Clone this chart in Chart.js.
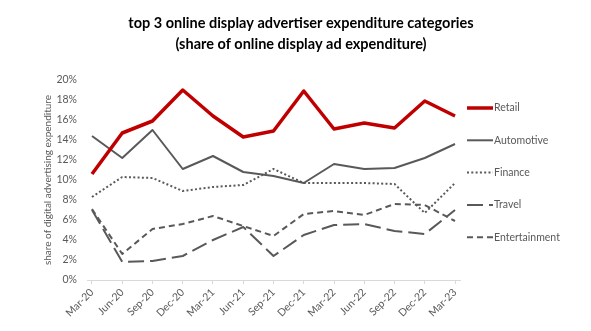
<!DOCTYPE html>
<html>
<head>
<meta charset="utf-8">
<script src="https://cdn.jsdelivr.net/npm/chart.js@4.4.1/dist/chart.umd.min.js"></script>
<style>
html,body{margin:0;padding:0;background:#fff;}
#wrap{width:591px;height:331px;position:relative;}
</style>
</head>
<body>
<div id="wrap"><canvas id="c" width="591" height="331"></canvas></div>
<script>
const categories = ['Mar-20','Jun-20','Sep-20','Dec-20','Mar-21','Jun-21','Sep-21','Dec-21','Mar-22','Jun-22','Sep-22','Dec-22','Mar-23'];
const retail        = [10.6, 14.7, 15.9, 19.0, 16.4, 14.3, 14.9, 18.9, 15.1, 15.7, 15.2, 17.9, 16.4];
const automotive    = [14.4, 12.2, 15.0, 11.1, 12.4, 10.8, 10.4,  9.7, 11.6, 11.1, 11.2, 12.2, 13.6];
const finance       = [ 8.3, 10.3, 10.2,  8.9,  9.3,  9.5, 11.1,  9.7,  9.7,  9.7,  9.6,  6.7,  9.7];
const travel        = [ 7.0,  1.8,  1.9,  2.4,  4.0,  5.3,  2.4,  4.5,  5.5,  5.6,  4.9,  4.6,  7.0];
const entertainment = [ 7.1,  2.6,  5.1,  5.6,  6.4,  5.4,  4.4,  6.6,  6.9,  6.5,  7.6,  7.5,  5.9];
const yTicks = [0,2,4,6,8,10,12,14,16,18,20];
const titleLines = ['top 3 online display advertiser expenditure categories','(share of online display ad expenditure)'];
const yTitle = 'share of digital advertising expenditure';

const GREY = '#595959';
const toXY = arr => arr.map((v,i)=>({x:i,y:v}));

const legendPlugin = {
  id:'customLegend',
  afterDraw(chart){
    const ctx = chart.ctx;
    const ds = chart.data.datasets;
    ctx.save();
    ds.forEach((d,i)=>{
      const y = 108 + i*32.3;
      ctx.beginPath();
      ctx.strokeStyle = d.borderColor;
      ctx.lineWidth = d.borderWidth;
      ctx.setLineDash(d.borderDash || []);
      ctx.lineCap = 'butt';
      ctx.moveTo(467,y); ctx.lineTo(493,y);
      ctx.stroke();
      ctx.setLineDash([]);
      ctx.fillStyle = GREY;
      ctx.font = '10.5px Lato, "DejaVu Sans", sans-serif';
      ctx.textBaseline = 'middle';
      ctx.textAlign = 'left';
      ctx.fillText(d.label, 494, y);
    });
    ctx.restore();
  }
};

const titlePlugin = {
  id:'customTitle',
  afterDraw(chart){
    const ctx = chart.ctx;
    ctx.save();
    ctx.fillStyle = '#000';
    ctx.font = 'bold 14.5px Lato, "DejaVu Sans", sans-serif';
    ctx.textAlign = 'center';
    ctx.textBaseline = 'middle';
    ctx.fillText(titleLines[0], 301, 23);
    ctx.fillText(titleLines[1], 301, 44);
    ctx.restore();
  }
};

new Chart(document.getElementById('c'), {
  type:'line',
  data:{
    datasets:[
      {label:'Retail', data:toXY(retail), borderColor:'#c00000', borderWidth:3.5, borderDash:[]},
      {label:'Automotive', data:toXY(automotive), borderColor:GREY, borderWidth:2, borderDash:[]},
      {label:'Finance', data:toXY(finance), borderColor:GREY, borderWidth:2, borderDash:[2,2.3]},
      {label:'Travel', data:toXY(travel), borderColor:GREY, borderWidth:2, borderDash:[16,6]},
      {label:'Entertainment', data:toXY(entertainment), borderColor:GREY, borderWidth:2, borderDash:[6,4]}
    ]
  },
  options:{
    responsive:false,
    animation:false,
    devicePixelRatio:1,
    layout:{padding:{top:80,right:131,bottom:0,left:0}},
    elements:{point:{radius:0,hoverRadius:0},line:{tension:0,borderJoinStyle:'round'}},
    plugins:{legend:{display:false},title:{display:false},tooltip:{enabled:false}},
    scales:{
      x:{
        type:'linear', min:-0.165, max:12.165,
        afterBuildTicks(s){ s.ticks = categories.map((c,i)=>({value:i})); },
        afterFit(s){ s.height = 51; },
        ticks:{
          callback:(v)=>categories[Math.round(v)] ?? '',
          maxRotation:45, minRotation:45, color:GREY, padding:2,
          font:{size:10.5, family:'Lato, "DejaVu Sans", sans-serif'}, autoSkip:false
        },
        grid:{display:true, drawOnChartArea:false, drawTicks:true, tickLength:4, color:'#d9d9d9'},
        border:{display:true, color:'#d9d9d9', width:1}
      },
      y:{
        min:0, max:20,
        afterBuildTicks(s){ s.ticks = yTicks.map(v=>({value:v})); },
        afterFit(s){ s.width = 87; },
        ticks:{callback:v=>v+'%', color:GREY, padding:10, font:{size:10.5, family:'Lato, "DejaVu Sans", sans-serif'}},
        grid:{display:false, drawTicks:false},
        border:{display:false},
        title:{display:true, text:yTitle, color:GREY, font:{size:10, family:'Lato, "DejaVu Sans", sans-serif'}, padding:{top:42,bottom:0}}
      }
    }
  },
  plugins:[legendPlugin, titlePlugin]
});
</script>
</body>
</html>
